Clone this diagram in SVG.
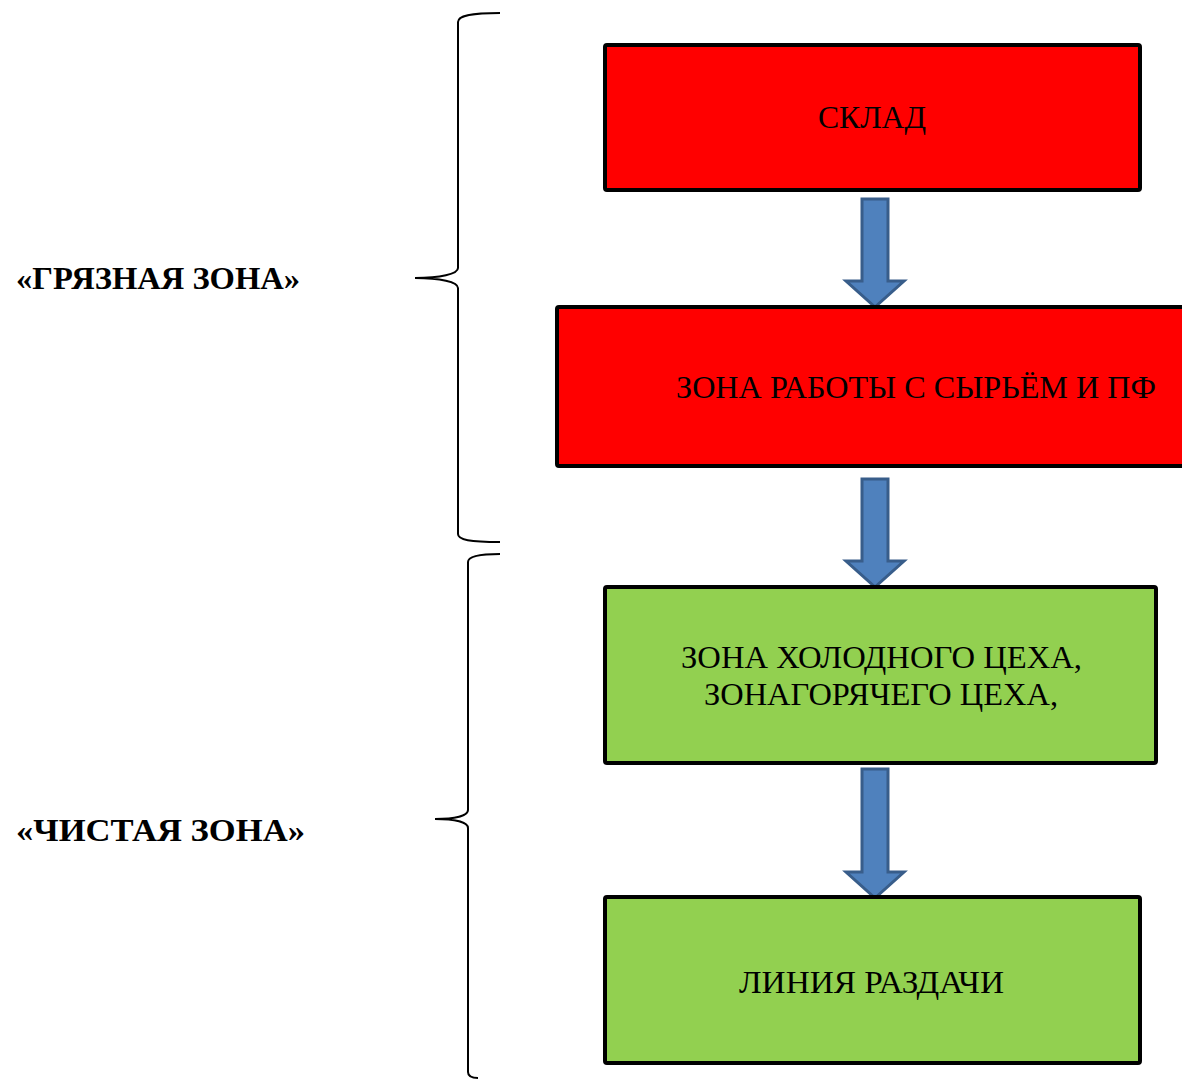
<svg xmlns="http://www.w3.org/2000/svg" width="1182" height="1080" viewBox="0 0 1182 1080">
<style>
.box{stroke:#000;stroke-width:4}
.red{fill:#FF0000}
.green{fill:#92D050}
.t{font-family:"Liberation Serif","Times New Roman",serif;font-size:32px;fill:#000}
.lbl{font-family:"Liberation Serif","Times New Roman",serif;font-size:32px;font-weight:bold;fill:#000}
.arr{fill:#4F81BD;stroke:#385D8A;stroke-width:3}
.brace{fill:none;stroke:#000;stroke-width:2}
</style>
<rect width="1182" height="1080" fill="#fff"/>
<g id="brace-dirty">
<path class="brace" d="M500,13 C470,13 458,16 458,22 L458,268 C458,274 440,278 415,278 C440,278 458,282 458,288 L458,534 C458,540 470,542 500,542"/>
</g>
<g id="brace-clean">
<path class="brace" d="M500,554 C480,554 468,556 468,562 L468,810 C468,816 455,819 435,819 C455,819 468,822 468,828 L468,1072 C468,1077 472,1078 478,1078"/>
</g>
<g id="label-dirty"><text class="lbl" x="16" y="289" textLength="284" lengthAdjust="spacingAndGlyphs">«ГРЯЗНАЯ ЗОНА»</text></g>
<g id="label-clean"><text class="lbl" x="16" y="841" textLength="289" lengthAdjust="spacingAndGlyphs">«ЧИСТАЯ ЗОНА»</text></g>
<g id="connectors">
<path class="arr" d="M862,199 L888,199 L888,281 L904,281 L875,307 L846,281 L862,281 Z"/>
<path class="arr" d="M862,479 L888,479 L888,561 L904,561 L875,587 L846,561 L862,561 Z"/>
<path class="arr" d="M862,769 L888,769 L888,872 L904,872 L875,898 L846,872 L862,872 Z"/>
</g>
<g id="node-sklad">
<rect class="box red" x="605" y="45" width="535" height="145" rx="2"/>
<text class="t" x="818" y="128" textLength="108" lengthAdjust="spacingAndGlyphs">СКЛАД</text>
</g>
<g id="node-raw">
<rect class="box red" x="557" y="307" width="720" height="159" rx="2"/>
<text class="t" x="676" y="398" textLength="480" lengthAdjust="spacingAndGlyphs">ЗОНА РАБОТЫ С СЫРЬЁМ И ПФ</text>
</g>
<g id="node-shops">
<rect class="box green" x="605" y="587" width="551" height="176" rx="2"/>
<text class="t" x="681" y="668" textLength="401" lengthAdjust="spacingAndGlyphs">ЗОНА ХОЛОДНОГО ЦЕХА,</text>
<text class="t" x="704" y="705" textLength="354" lengthAdjust="spacingAndGlyphs">ЗОНАГОРЯЧЕГО ЦЕХА,</text>
</g>
<g id="node-line">
<rect class="box green" x="605" y="897" width="535" height="166" rx="2"/>
<text class="t" x="739" y="993" textLength="265" lengthAdjust="spacingAndGlyphs">ЛИНИЯ РАЗДАЧИ</text>
</g>
</svg>
